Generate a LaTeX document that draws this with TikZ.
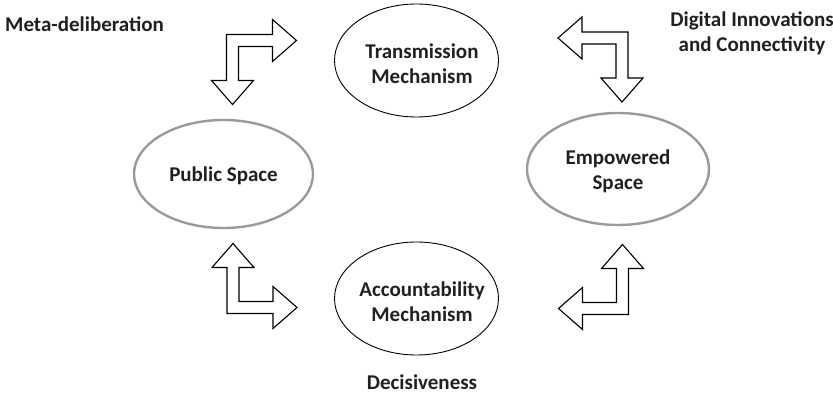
\documentclass[tikz,border=0pt]{standalone}
\usepackage{fontspec}
\setmainfont{Carlito}
\usetikzlibrary{shapes.geometric}
\definecolor{ink}{HTML}{231F20}
\definecolor{rim}{HTML}{9A9A9A}

% L-shaped double-headed block arrow: corner of the centre line at (#1,#2),
% one arm along x (sign #3), the other along y (sign #4)
\newcommand\bentarrow[4]{%
  \begin{scope}[shift={(#1,#2)}, xscale=#3, yscale=#4]
    \draw[bent] (-6,-6) -- (40,-6) -- (40,-21) -- (64,0) -- (40,21) -- (40,6)
      -- (6,6) -- (6,40) -- (21,40) -- (0,64) -- (-21,40) -- (-6,40) -- cycle;
  \end{scope}}

\begin{document}
\begin{tikzpicture}[x=1pt, y=-1pt,
  lbl/.style={font=\bfseries\fontsize{21}{25}\selectfont, text=ink, align=center, inner sep=0pt},
  mech/.style={ellipse, draw=black, line width=0.9pt, inner sep=0pt},
  space/.style={ellipse, draw=rim, line width=2.4pt, inner sep=0pt},
  bent/.style={draw=black, line width=1.1pt, fill=white, line join=miter}]
  \useasboundingbox (0,0) rectangle (833,395);

  % the four spaces and mechanisms
  \node[mech, minimum width=164pt, minimum height=113pt] (trans) at (416.5,60.5) {};
  \node[mech, minimum width=164pt, minimum height=113pt] (acc) at (416.5,298.5) {};
  \node[space, minimum width=179pt, minimum height=108pt] (pub) at (223.5,174) {};
  \node[space, minimum width=182pt, minimum height=112pt] (emp) at (618,169) {};

  \node[lbl] (transtxt) at ([xshift=5.5pt, yshift=-3.5pt]trans.center) {Transmission\\Mechanism};
  \node[lbl] (acctxt) at ([xshift=5.5pt, yshift=-3.5pt]acc.center) {Accountability\\Mechanism};
  \node[lbl] (pubtxt) at ([yshift=-2pt]pub.center) {Public Space};
  \node[lbl] (emptxt) at ([yshift=-2.5pt]emp.center) {Empowered\\Space};

  % outer labels
  \node[lbl, anchor=west] (meta) at (5,24) {Meta-deliberation};
  \node[lbl] (digital) at (752,33) {Digital Innovations\\and Connectivity};
  \node[lbl] (decisive) at (422,382) {Decisiveness};

  % bent arrows between the spaces
  \coordinate (tl) at (232.5,40.5);
  \coordinate (tr) at (622,38);
  \coordinate (bl) at (233,307.5);
  \coordinate (br) at (622.5,308.5);
  \bentarrow{232.5}{40.5}{1}{1}
  \bentarrow{622}{38}{-1}{1}
  \bentarrow{233}{307.5}{1}{-1}
  \bentarrow{622.5}{308.5}{-1}{-1}
\end{tikzpicture}
\end{document}
